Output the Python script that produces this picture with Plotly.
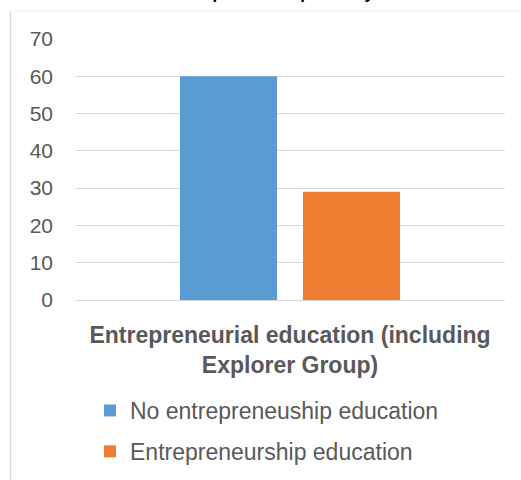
import plotly.graph_objects as go

categories = ["Entrepreneurial education (including<br>Explorer Group)"]
series_names = ["No entrepreneuship education", "Entrepreneurship education"]
no_edu = [60]
with_edu = [29]
colors = ["#5B9BD5", "#ED7D31"]
title_text = "Entrepreneurship activity"
y_ticks = [0, 10, 20, 30, 40, 50, 60, 70]

W, H = 521, 480
ml, mr, mt, mb = 75, 16, 39, 180
pw, ph = W - ml - mr, H - mt - mb

def px_x(x):
    return (x - ml) / pw

def px_y(y):
    return (H - mb - y) / ph

fig = go.Figure()
for name, vals, col in zip(series_names, [no_edu, with_edu], colors):
    fig.add_trace(go.Bar(x=categories, y=vals, name=name, marker=dict(color=col, line=dict(width=0)),
                         legendgroup=name))

FONT = "Liberation Sans, Arial, sans-serif"
fig.update_layout(
    width=W, height=H,
    margin=dict(l=ml, r=mr, t=mt, b=mb, pad=0, autoexpand=False),
    paper_bgcolor="white", plot_bgcolor="white",
    barmode="group", bargap=0.428, bargroupgap=0.211,
    font=dict(family=FONT, color="#595959", size=20),
    showlegend=True,
    legend=dict(orientation="v", x=px_x(90), xanchor="left", y=px_y(389), yanchor="top",
                font=dict(size=23, color="#595959", family=FONT),
                traceorder="grouped", tracegroupgap=8, itemwidth=30, bgcolor="rgba(0,0,0,0)"),
    xaxis=dict(showgrid=False, showline=False, zeroline=False, ticks="", automargin=False,
               tickfont=dict(size=23, color="#595959", family=FONT), ticklabelstandoff=19),
    yaxis=dict(range=[0, 70], tickvals=y_ticks, showgrid=True, gridcolor="#d9d9d9", gridwidth=1,
               zeroline=True, zerolinecolor="#d9d9d9", zerolinewidth=1, showline=False, ticks="",
               automargin=False,
               tickfont=dict(size=21, color="#595959", family=FONT), ticklabelstandoff=21),
    annotations=[dict(text="<b>" + title_text + "</b>", xref="paper", yref="paper",
                      x=px_x(272), y=px_y(4.5), xanchor="center", yanchor="bottom",
                      showarrow=False, borderpad=0,
                      font=dict(size=17, color="#000000", family=FONT))],
    shapes=[
        dict(type="line", xref="paper", yref="paper", x0=px_x(10.5), x1=px_x(10.5), y0=px_y(11), y1=px_y(490),
             line=dict(color="#d9d9d9", width=1.5)),
        dict(type="line", xref="paper", yref="paper", x0=px_x(10.5), x1=px_x(530), y0=px_y(11), y1=px_y(11),
             line=dict(color="#f0f0f0", width=1)),
    ],
)
fig.update_xaxes(tickprefix="<b>", ticksuffix="</b>")

fig.write_html("out.html")
